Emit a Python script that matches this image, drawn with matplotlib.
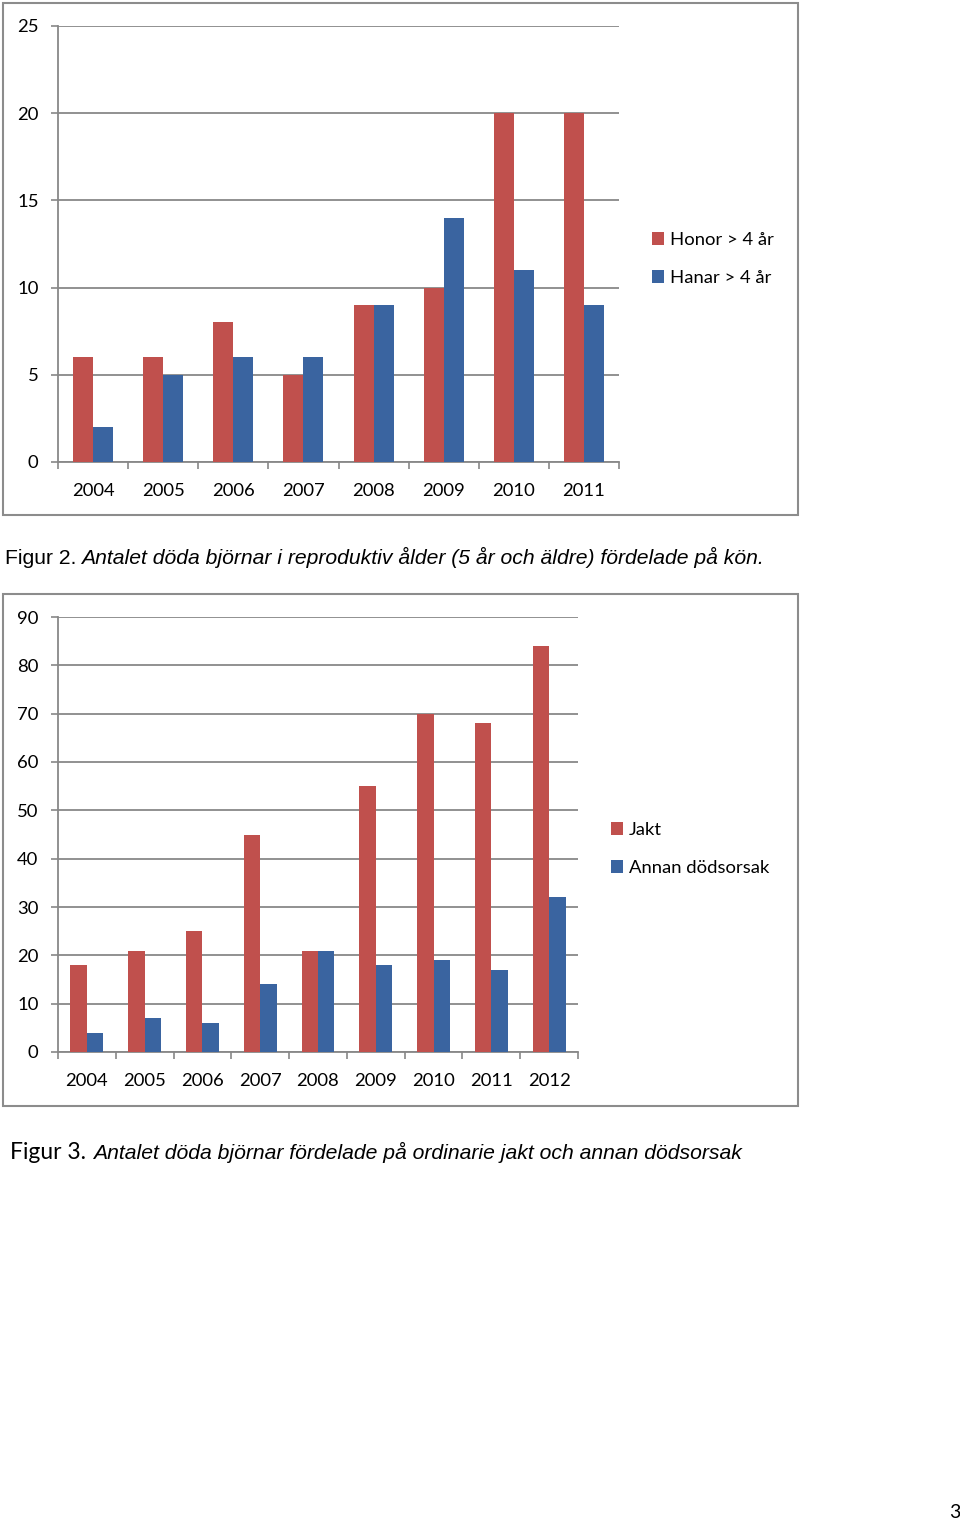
import numpy as np
import matplotlib
matplotlib.use('Agg')
import matplotlib.pyplot as plt
from matplotlib.patches import Rectangle
from matplotlib.ticker import FixedLocator

W, H = 960, 1523

# Figur 2 data
years1 = ['2004', '2005', '2006', '2007', '2008', '2009', '2010', '2011']
honor = [6, 6, 8, 5, 9, 10, 20, 20]
hanar = [2, 5, 6, 6, 9, 14, 11, 9]
labels1 = ['Honor > 4 år', 'Hanar > 4 år']

# Figur 3 data
years2 = ['2004', '2005', '2006', '2007', '2008', '2009', '2010', '2011', '2012']
jakt = [18, 21, 25, 45, 21, 55, 70, 68, 84]
annan = [4, 7, 6, 14, 21, 18, 19, 17, 32]
labels2 = ['Jakt', 'Annan dödsorsak']

RED = '#C0504D'
BLUE = '#3A64A0'
GRID = '#888888'
TICKFONT = 'Lato'
TS = 13.3


def fx(x):
    return x / W


def fy(y):
    return 1 - y / H


def box(fig, x0, y0, x1, y1):
    fig.patches.append(Rectangle((fx(x0), fy(y1)), fx(x1) - fx(x0), fy(y0) - fy(y1),
                                 transform=fig.transFigure, fill=False,
                                 edgecolor='#8c8c8c', lw=1.5))


def barChart(fig, rect, years, s1, s2, labels, ymax, ystep, legPos):
    left, top, right, bottom = rect
    ax = fig.add_axes([fx(left), fy(bottom), fx(right) - fx(left), fy(top) - fy(bottom)])
    n = len(years)
    x = np.arange(n)
    w = 0.285
    ax.bar(x - w / 2, s1, w, color=RED, label=labels[0], zorder=3)
    ax.bar(x + w / 2, s2, w, color=BLUE, label=labels[1], zorder=3)
    ax.set_xlim(-0.5, n - 0.5)
    ax.set_ylim(0, ymax)
    ax.set_yticks(np.arange(0, ymax + 1, ystep))
    ax.set_xticks(x)
    ax.set_xticklabels(years)
    ax.xaxis.set_minor_locator(FixedLocator(np.arange(-0.5, n, 1.0)))
    ax.tick_params(axis='x', which='major', length=0, pad=15, labelsize=TS)
    ax.tick_params(axis='x', which='minor', length=5, width=1.2, color=GRID, direction='out')
    ax.tick_params(axis='y', length=5, width=1.2, color=GRID, pad=9, labelsize=TS)
    for lab in ax.get_xticklabels() + ax.get_yticklabels():
        lab.set_fontfamily(TICKFONT)
    ax.yaxis.grid(True, color=GRID, lw=1.3, zorder=0)
    ax.set_axisbelow(True)
    for s in ['top', 'right']:
        ax.spines[s].set_visible(False)
    for s in ['left', 'bottom']:
        ax.spines[s].set_color(GRID)
        ax.spines[s].set_linewidth(1.3)
    ax.legend(loc='center left', bbox_to_anchor=(fx(legPos[0]), fy(legPos[1])),
              bbox_transform=fig.transFigure, frameon=False,
              prop={'family': TICKFONT, 'size': TS},
              handlelength=0.65, handleheight=0.65, handletextpad=0.3,
              labelspacing=1.2, borderpad=0, borderaxespad=0)
    return ax


def caption(fig, x, y, head, headFont, headSize, body, bodySize, gap):
    r = fig.canvas.get_renderer()
    t = fig.text(fx(x), fy(y), head, family=headFont, size=headSize, va='baseline', ha='left')
    bb = t.get_window_extent(renderer=r)
    fig.text(fx(bb.x1 + gap), fy(y), body,
             family='Liberation Sans', style='italic', size=bodySize, va='baseline', ha='left')


fig = plt.figure(figsize=(W / 100, H / 100), dpi=100)

box(fig, 3, 3, 798, 515)
barChart(fig, (58, 26, 619, 462), years1, honor, hanar, labels1, 25, 5, (652, 259))
caption(fig, 5, 564, 'Figur 2.', 'Liberation Sans', 15.2,
        'Antalet döda björnar i reproduktiv ålder (5 år och äldre) fördelade på kön.', 15.2, 5)

box(fig, 3, 594, 798, 1106)
barChart(fig, (58, 617, 578, 1052), years2, jakt, annan, labels2, 90, 10, (611, 849))
caption(fig, 10, 1159, 'Figur 3.', TICKFONT, 16.5,
        'Antalet döda björnar fördelade på ordinarie jakt och annan dödsorsak', 15.2, 7)

fig.text(fx(955), fy(1512), '3', family=TICKFONT, size=14, ha='center', va='center')

fig.savefig('out.png', dpi=100)
